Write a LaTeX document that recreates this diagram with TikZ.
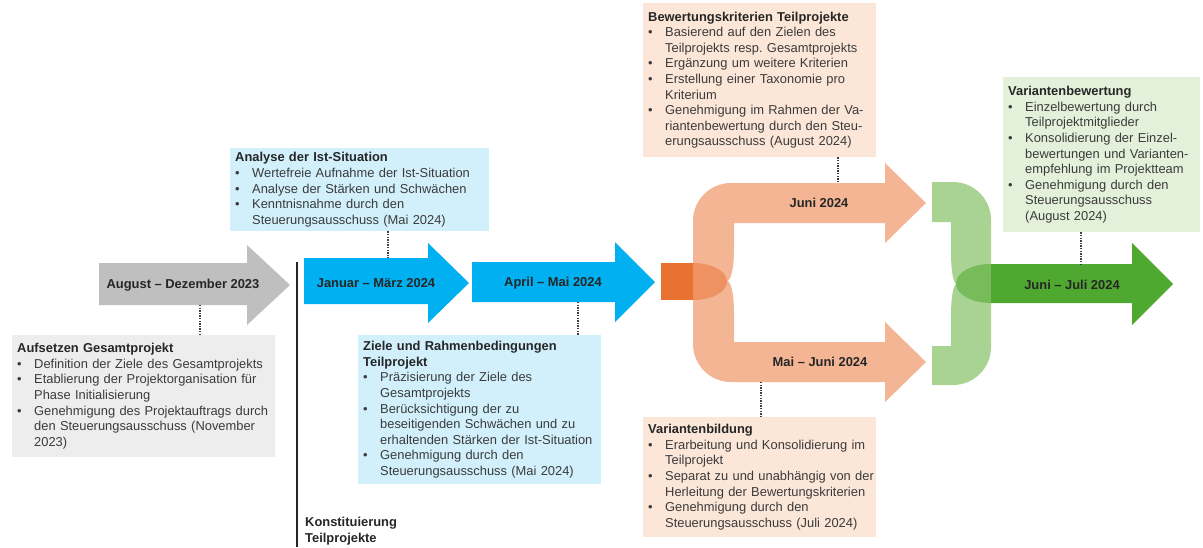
\documentclass[tikz,border=0pt]{standalone}
\usepackage{fontspec}
\setmainfont{Liberation Sans}
\frenchspacing
\definecolor{phaseGray}{HTML}{BFBFBF}
\definecolor{phaseBlue}{HTML}{00B0F0}
\definecolor{phaseOrange}{HTML}{E97132}
\definecolor{phaseSalmon}{HTML}{F4B595}
\definecolor{phaseLeaf}{HTML}{A8D392}
\definecolor{phaseGreen}{HTML}{4FA82F}
\definecolor{boxGray}{HTML}{EDEDED}
\definecolor{boxBlue}{HTML}{D1F0FC}
\definecolor{boxSalmon}{HTML}{FCE6D8}
\definecolor{boxGreen}{HTML}{E3F1DA}
\definecolor{labelInk}{HTML}{262626}
\definecolor{bodyInk}{HTML}{3B3B3B}
\definecolor{guideInk}{HTML}{404040}
\newcommand{\boxtitle}[1]{\leftskip=4pt\noindent{\bfseries\color{labelInk}#1}\par}
\newcommand{\bitem}[1]{\leftskip=4pt\hangindent=17pt\hangafter=1\noindent\makebox[17pt][l]{\textbullet}#1\par}
\tikzset{
  every picture/.style={font=\fontsize{12.9}{15.6}\selectfont, text=bodyInk},
  info box/.style={anchor=north west, text width=#1, inner xsep=1pt,
    inner ysep=0pt, align=left},
  phase label/.style={font=\fontsize{12.9}{15.6}\selectfont\bfseries,
    text=labelInk, inner sep=0pt},
  guide/.style={draw=guideInk, line width=1.4pt, dash pattern=on 1.3pt off 1.3pt}
}
\begin{document}
\begin{tikzpicture}[x=1pt,y=-1pt]
  \fill[white] (0,0) rectangle (1203,547);
  \useasboundingbox (0,0) rectangle (1203,547);
  % phase arrows
  \fill[phaseGray] (99,263) -- (247,263) -- (247,245) -- (290,285) -- (247,325) -- (247,305) -- (99,305) -- cycle;
  \fill[phaseBlue] (304,258) -- (428,258) -- (428,243) -- (469,283) -- (428,323) -- (428,304) -- (304,304) -- cycle;
  \fill[phaseBlue] (472,262) -- (615,262) -- (615,242) -- (655,282) -- (615,322) -- (615,302) -- (472,302) -- cycle;
  % split into two branches
  \fill[phaseSalmon] (693,281) -- (693,221) .. controls (693,200) and (710,183) .. (731,183) -- (885,183)
    -- (885,163) -- (926,203) -- (885,243) -- (885,223) -- (734,223) -- (734,250)
    .. controls (734,268) and (731,281) .. (727,281) -- cycle;
  \fill[phaseSalmon] (693,281) -- (727,281) .. controls (731,281) and (734,294) .. (734,312) -- (734,342)
    -- (885,342) -- (885,322) -- (926,362) -- (885,402) -- (885,382) -- (731,382)
    .. controls (710,382) and (693,365) .. (693,344) -- cycle;
  \fill[phaseOrange] (661,263) rectangle (693,300);
  \fill[phaseOrange, fill opacity=0.5] (693,263) .. controls (712,263) and (727,271) .. (727,281.5)
    .. controls (727,292) and (712,300) .. (693,300) -- cycle;
  % merge of the branches
  \fill[phaseLeaf] (932,182) -- (953,182) .. controls (974,182) and (991,199) .. (991,220) -- (991,284)
    -- (957,284) .. controls (953,284) and (951,270) .. (951,252) -- (951,222) -- (932,222) -- cycle;
  \fill[phaseLeaf] (991,284) -- (991,347) .. controls (991,368) and (974,385) .. (953,385) -- (932,385)
    -- (932,346) -- (951,346) -- (951,316) .. controls (951,298) and (953,284) .. (957,284) -- cycle;
  \fill[phaseGreen] (991,264) -- (1132,264) -- (1132,243) -- (1173,284) -- (1132,325) -- (1132,303) -- (991,303) -- cycle;
  \fill[phaseGreen, fill opacity=0.55] (991,264) .. controls (971,264) and (956,273) .. (956,283.5)
    .. controls (956,294) and (971,303) .. (991,303) -- cycle;
  % phase labels
  \node[phase label] (augdez) at (183,285) {August – Dezember 2023};
  \node[phase label] (janmar) at (376,283) {Januar – März 2024};
  \node[phase label] (aprmai) at (553,283) {April – Mai 2024};
  \node[phase label] (juni) at (819,203) {Juni 2024};
  \node[phase label] (maijuni) at (820,362) {Mai – Juni 2024};
  \node[phase label] (junijuli) at (1072,285) {Juni – Juli 2024};
  % start of the sub-projects
  \draw[labelInk, line width=1.5pt] (297,262) -- (297,547);
  \node[phase label, anchor=north west, align=left] (konst) at (305,517) {Konstituierung\\Teilprojekte};
  % description boxes
  \node[info box=261pt, fill=boxGray, minimum height=122pt] (gesamt) at (12,335) {%
    \boxtitle{Aufsetzen Gesamtprojekt}
    \bitem{Definition der Ziele des Gesamtprojekts}
    \bitem{Etablierung der Projektorganisation für\newline Phase Initialisierung}
    \bitem{Genehmigung des Projektauftrags durch\newline den Steuerungsausschuss (November\newline 2023)}};
  \node[info box=257pt, fill=boxBlue, minimum height=83pt] (istana) at (230,148) {%
    \boxtitle{Analyse der Ist-Situation}
    \bitem{Wertefreie Aufnahme der Ist-Situation}
    \bitem{Analyse der Stärken und Schwächen}
    \bitem{Kenntnisnahme durch den\newline Steuerungsausschuss (Mai 2024)}};
  \node[info box=241pt, fill=boxBlue, minimum height=149pt] (zieletp) at (358,335) {%
    \boxtitle{Ziele und Rahmenbedingungen\newline Teilprojekt}
    \bitem{Präzisierung der Ziele des\newline Gesamtprojekts}
    \bitem{Berücksichtigung der zu\newline beseitigenden Schwächen und zu\newline erhaltenden Stärken der Ist-Situation}
    \bitem{Genehmigung durch den\newline Steuerungsausschuss (Mai 2024)}};
  \node[info box=231pt, fill=boxSalmon, minimum height=154pt] (kriterien) at (643,3) {%
    \boxtitle{Bewertungskriterien Teilprojekte}
    \bitem{Basierend auf den Zielen des\newline Teilprojekts resp. Gesamtprojekts}
    \bitem{Ergänzung um weitere Kriterien}
    \bitem{Erstellung einer Taxonomie pro\newline Kriterium}
    \bitem{Genehmigung im Rahmen der Va-\newline riantenbewertung durch den Steu-\newline erungsausschuss (August 2024)}};
  \node[info box=231pt, fill=boxSalmon, minimum height=120pt] (bildung) at (643,417) {%
    \boxtitle{Variantenbildung}
    \bitem{Erarbeitung und Konsolidierung im\newline Teilprojekt}
    \bitem{Separat zu und unabhängig von der\newline Herleitung der Bewertungskriterien}
    \bitem{Genehmigung durch den\newline Steuerungsausschuss (Juli 2024)}};
  \node[info box=195pt, fill=boxGreen, minimum height=155pt] (bewertung) at (1003,77) {%
    \boxtitle{Variantenbewertung}
    \bitem{Einzelbewertung durch\newline Teilprojektmitglieder}
    \bitem{Konsolidierung der Einzel-\newline bewertungen und Varianten-\newline empfehlung im Projektteam}
    \bitem{Genehmigung durch den\newline Steuerungsausschuss\newline (August 2024)}};
  % dotted guides from boxes to phases
  \coordinate (augdezS) at (200,305);
  \coordinate (janmarN) at (388,258);
  \coordinate (aprmaiS) at (578,302);
  \coordinate (juniN) at (838,183);
  \coordinate (maijuniS) at (761,382);
  \coordinate (junijuliN) at (1081,264);
  \draw[guide] (augdezS) -- (gesamt.north -| augdezS);
  \draw[guide] (istana.south -| janmarN) -- (janmarN);
  \draw[guide] (aprmaiS) -- (zieletp.north -| aprmaiS);
  \draw[guide] (kriterien.south -| juniN) -- (juniN);
  \draw[guide] (maijuniS) -- (bildung.north -| maijuniS);
  \draw[guide] (bewertung.south -| junijuliN) -- (junijuliN);
\end{tikzpicture}
\end{document}
